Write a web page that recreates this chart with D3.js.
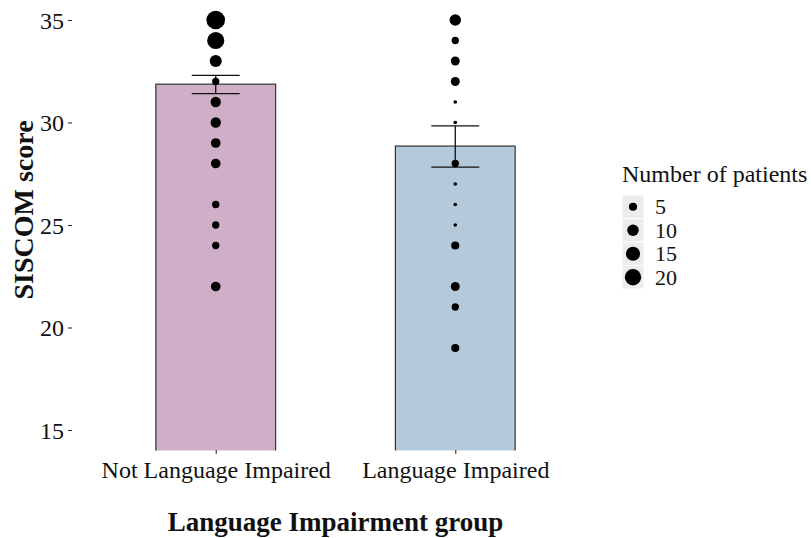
<!DOCTYPE html>
<html>
<head>
<meta charset="utf-8">
<script src="https://cdn.jsdelivr.net/npm/d3@7"></script>
<style>
  body { margin: 0; background: #fff; }
  text { font-family: "Liberation Serif", "Times New Roman", serif; fill: #111; }
</style>
</head>
<body>
<div id="chart"></div>
<script>
// data
let groups = ["Not Language Impaired", "Language Impaired"];
let groupMeans = [31.87, 28.85];
let errLow = [31.41, 27.82];
let errHigh = [32.3, 29.84];
let barColors = ["#cfaec8", "#b4c9da"];

let notImpairedScores = [35, 34, 33, 32, 31, 30, 29, 28, 26, 25, 24, 22];
let notImpairedCounts = [26, 22, 11, 4, 8, 8, 7, 7, 4, 4, 4, 7];
let impairedScores = [35, 34, 33, 32, 31, 30, 28, 27, 26, 25, 24, 22, 21, 19];
let impairedCounts = [10, 4, 6, 6, 1, 1, 4, 1, 1, 1, 5, 6, 4, 5];

let yTicks = [15, 20, 25, 30, 35];
let legendCounts = [5, 10, 15, 20];

var width = 811, height = 538;
var panel = {left: 72, right: 599, top: -0.5, bottom: 450.5};

var svg = d3.select("#chart").append("svg")
    .attr("width", width)
    .attr("height", height);

var x = d3.scalePoint()
    .domain(groups)
    .range([panel.left, panel.right])
    .padding(0.6);

var y = d3.scaleLinear()
    .domain([14, 36])
    .range([panel.bottom, panel.top]);

var size = d3.scaleSqrt()
    .domain([0, 30])
    .range([0, 10]);

var barW = x.step() * 0.5;
var capW = x.step() * 0.2;

svg.append("clipPath").attr("id", "panel-clip")
  .append("rect")
    .attr("x", panel.left)
    .attr("y", panel.top)
    .attr("width", panel.right - panel.left)
    .attr("height", panel.bottom - panel.top);

var plot = svg.append("g").attr("clip-path", "url(#panel-clip)");

// bars
plot.selectAll(".bar")
    .data(groups)
  .enter().append("rect")
    .attr("class", "bar")
    .attr("x", function(d){ return x(d) - barW / 2; })
    .attr("y", function(d, i){ return y(groupMeans[i]); })
    .attr("width", barW)
    .attr("height", function(d, i){ return panel.bottom + 5 - y(groupMeans[i]); })
    .style("fill", function(d, i){ return barColors[i]; })
    .style("stroke", "#333")
    .style("stroke-width", 1.2);

// error bars
var eb = plot.selectAll(".err")
    .data(groups)
  .enter().append("g")
    .attr("class", "err")
    .style("stroke", "#111")
    .style("stroke-width", 1.3);

eb.append("line")
    .attr("x1", function(d){ return x(d); })
    .attr("x2", function(d){ return x(d); })
    .attr("y1", function(d, i){ return y(errLow[i]); })
    .attr("y2", function(d, i){ return y(errHigh[i]); });
eb.append("line")
    .attr("x1", function(d){ return x(d) - capW / 2; })
    .attr("x2", function(d){ return x(d) + capW / 2; })
    .attr("y1", function(d, i){ return y(errHigh[i]); })
    .attr("y2", function(d, i){ return y(errHigh[i]); });
eb.append("line")
    .attr("x1", function(d){ return x(d) - capW / 2; })
    .attr("x2", function(d){ return x(d) + capW / 2; })
    .attr("y1", function(d, i){ return y(errLow[i]); })
    .attr("y2", function(d, i){ return y(errLow[i]); });

// patient dots
function dotData(group, scores, counts){
  return scores.map(function(s, i){ return {group: group, score: s, n: counts[i]}; });
}
var dots = dotData(groups[0], notImpairedScores, notImpairedCounts)
  .concat(dotData(groups[1], impairedScores, impairedCounts));

plot.selectAll(".dot")
    .data(dots)
  .enter().append("circle")
    .attr("class", "dot")
    .attr("cx", function(d){ return x(d.group); })
    .attr("cy", function(d){ return y(d.score); })
    .attr("r", function(d){ return size(d.n); })
    .style("fill", "#000");

// axes (no axis line, only ticks)
var yAxis = d3.axisLeft(y).tickValues(yTicks).tickSize(4).tickPadding(4);
var xAxis = d3.axisBottom(x).tickSize(4).tickPadding(7);

var yg = svg.append("g")
    .attr("transform", "translate(" + panel.left + ",0)")
    .call(yAxis);
var xg = svg.append("g")
    .attr("transform", "translate(0," + (panel.bottom - 0.5) + ")")
    .call(xAxis);

[yg, xg].forEach(function(g){
  g.select(".domain").remove();
  g.selectAll(".tick line").style("stroke", "#333").style("stroke-width", 1.1);
  g.selectAll(".tick text")
    .style("font-family", "'Liberation Serif', 'Times New Roman', serif")
    .style("font-size", "24px")
    .style("fill", "#111");
});
yg.selectAll(".tick text").attr("dy", "0.34em");
xg.selectAll(".tick text").attr("dy", "0.72em");

// axis titles
svg.append("text")
    .text("SISCOM score")
    .attr("transform", "translate(33,210) rotate(-90)")
    .attr("text-anchor", "middle")
    .style("font-size", "28px")
    .style("font-weight", "bold");

svg.append("text")
    .text("Language Impairment group")
    .attr("x", (panel.left + panel.right) / 2)
    .attr("y", 531)
    .attr("text-anchor", "middle")
    .style("font-size", "27px")
    .style("font-weight", "bold");

// legend
var legend = svg.append("g").attr("transform", "translate(622,0)");
legend.append("text")
    .text("Number of patients")
    .attr("x", 0)
    .attr("y", 182)
    .style("font-size", "24px");

var keyH = 23.5;
var key = legend.selectAll(".key")
    .data(legendCounts)
  .enter().append("g")
    .attr("class", "key")
    .attr("transform", function(d, i){ return "translate(0," + (195 + i * keyH) + ")"; });

key.append("rect")
    .attr("width", 22)
    .attr("height", keyH)
    .style("fill", "#ececec")
    .style("stroke", "#fff")
    .style("stroke-width", 1);
key.append("circle")
    .attr("cx", 11)
    .attr("cy", keyH / 2)
    .attr("r", function(d){ return size(d); })
    .style("fill", "#000");
key.append("text")
    .text(function(d){ return d; })
    .attr("x", 33)
    .attr("y", keyH / 2)
    .attr("dy", "0.34em")
    .style("font-size", "22px");
</script>
</body>
</html>
